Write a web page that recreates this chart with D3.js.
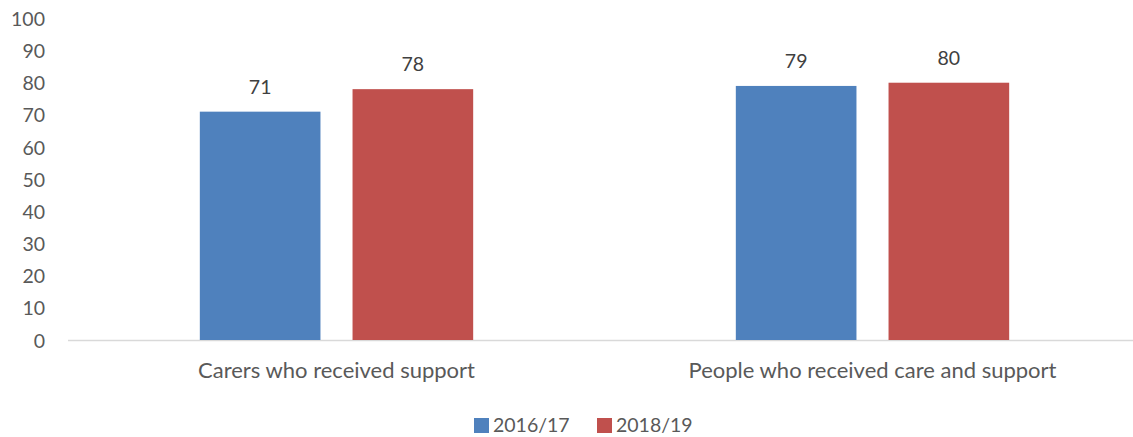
<!DOCTYPE html>
<html>
<head>
<meta charset="utf-8">
<script src="https://cdn.jsdelivr.net/npm/d3@7"></script>
<style>
  html, body { margin: 0; padding: 0; background: #fff; }
  svg { display: block; font-family: Lato, "Open Sans", sans-serif; }
</style>
</head>
<body>
<svg id="chart" width="1133" height="437"></svg>
<script>
// Chart data
const categories = ["Carers who received support", "People who received care and support"];
const seriesNames = ["2016/17", "2018/19"];
const values2016 = [71, 79];
const values2018 = [78, 80];
const yTicks = [0, 10, 20, 30, 40, 50, 60, 70, 80, 90, 100];
const seriesColors = ["#4F81BD", "#C0504D"];

const seriesValues = [values2016, values2018];
const rows = categories.map((c, i) => ({
  category: c,
  values: seriesNames.map((s, j) => ({ series: s, value: seriesValues[j][i], color: seriesColors[j] }))
}));

const svg = d3.select("#chart");
const textColor = "#595959";
const fontSize = 19.5;
const catFontSize = 22;

const x0 = d3.scaleBand().domain(categories).range([68.5, 1140.5]).paddingInner(0).paddingOuter(0);
const bandW = x0.bandwidth();
const groupW = bandW * 0.51;
const x1 = d3.scaleBand().domain(seriesNames).range([0, groupW]).paddingInner(0.21).paddingOuter(0);
const y = d3.scaleLinear().domain([0, 100]).range([340, 18.4]);

// Y axis labels (no axis line, no gridlines)
const yAxis = d3.axisLeft(y).tickValues(yTicks).tickSize(0).tickPadding(0);
const gy = svg.append("g").attr("transform", "translate(45,0)").call(yAxis);
gy.select(".domain").remove();
gy.selectAll("text")
  .attr("fill", textColor)
  .style("font-size", fontSize + "px")
  .style("font-family", "Lato, sans-serif")
  .attr("dy", "0.36em");

// Category axis
const xAxis = d3.axisBottom(x0).tickSize(0).tickPadding(0);
const gx = svg.append("g").attr("transform", "translate(0,340)").call(xAxis);
gx.select(".domain").remove();
gx.append("line")
  .attr("x1", 68).attr("x2", 1133).attr("y1", 0.5).attr("y2", 0.5)
  .attr("stroke", "#D9D9D9").attr("stroke-width", 1.5);
gx.selectAll(".tick text")
  .attr("fill", textColor)
  .style("font-size", catFontSize + "px")
  .style("font-family", "Lato, sans-serif")
  .attr("dy", 0)
  .attr("y", 38);

// Bars
const groups = svg.append("g").selectAll("g.group")
  .data(rows).join("g")
  .attr("class", "group")
  .attr("transform", d => `translate(${x0(d.category) + (bandW - groupW) / 2},0)`);

groups.selectAll("rect")
  .data(d => d.values).join("rect")
  .attr("x", d => x1(d.series))
  .attr("width", x1.bandwidth())
  .attr("y", d => y(d.value))
  .attr("height", d => y(0) - y(d.value))
  .attr("fill", d => d.color);

// Value labels
groups.selectAll("text.value")
  .data(d => d.values).join("text")
  .attr("class", "value")
  .attr("x", d => x1(d.series) + x1.bandwidth() / 2)
  .attr("y", d => y(d.value) - 18)
  .attr("text-anchor", "middle")
  .attr("fill", "#404040")
  .style("font-size", fontSize + "px")
  .text(d => d.value);

// Legend
const legendX = d3.scaleOrdinal().domain(seriesNames).range([474, 597]);
const legend = svg.append("g").selectAll("g")
  .data(seriesNames.map((s, i) => ({ name: s, color: seriesColors[i] })))
  .join("g")
  .attr("transform", d => `translate(${legendX(d.name)},418)`);
legend.append("rect").attr("width", 15).attr("height", 15).attr("fill", d => d.color);
legend.append("text")
  .attr("x", 19).attr("y", 14)
  .attr("fill", textColor)
  .style("font-size", fontSize + "px")
  .text(d => d.name);
</script>
</body>
</html>
